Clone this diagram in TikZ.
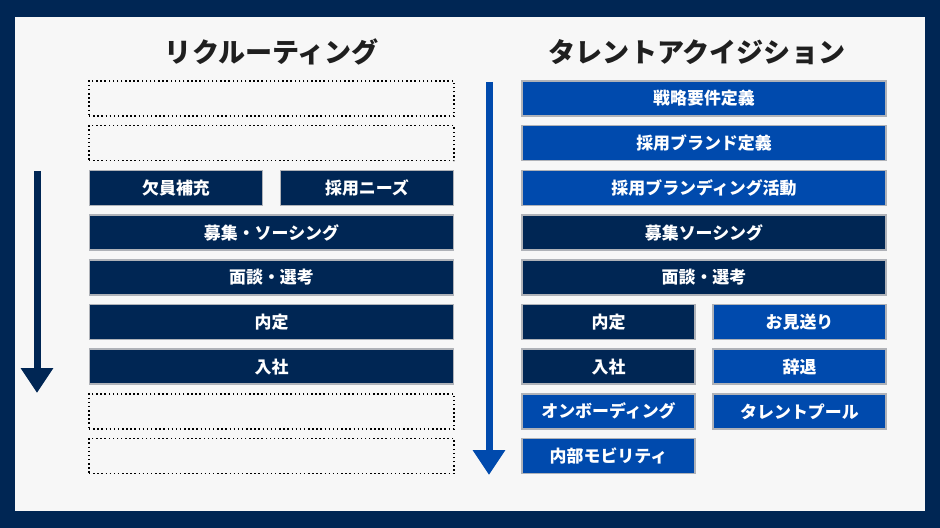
\documentclass[tikz,border=0pt]{standalone}
\usepackage{fontspec}
\setmainfont{Noto Sans CJK JP}
\usetikzlibrary{arrows.meta, positioning}
\definecolor{framenavy}{RGB}{0, 38, 84}
\definecolor{boxnavy}{RGB}{0, 38, 84}
\definecolor{boxblue}{RGB}{0, 74, 173}
\definecolor{paper}{RGB}{247, 247, 247}
\definecolor{edgegray}{RGB}{175, 178, 184}

\begin{document}
\begin{tikzpicture}[x=0.75pt, y=-0.75pt,
  stagebox/.style={draw=edgegray, line width=1.2pt, minimum height=26.25pt, inner sep=0pt, text=white, font=\fontsize{12.7}{14}\selectfont\bfseries},
  navybox/.style={stagebox, fill=boxnavy},
  bluebox/.style={stagebox, fill=boxblue},
  emptybox/.style={draw=black, dotted, line width=1.1pt, fill=paper, minimum height=26.25pt, minimum width=273.75pt},
  full/.style={minimum width=273pt},
  half/.style={minimum width=130pt},
  title/.style={font=\fontsize{20.3}{23}\selectfont\bfseries, text={black!88}},
  flow/.style={line width=5.25pt, -{Triangle[length=18.75pt, width=23.25pt]}}]

  % Frame and background
  \fill[framenavy] (0,0) rectangle (940,528);
  \fill[paper] (15,17) rectangle (925,511);

  % Titles
  \node[title] (rt) at (272, 52) {リクルーティング};
  \node[title] (tt) at (697, 52) {タレントアクイジション};

  % Recruiting column
  \node[emptybox] (r1) at (271.5, 98.5) {};
  \node[emptybox] (r2) at (271.5, 143.2) {};
  \node[navybox, half] (r3a) at (176, 187.9) {欠員補充};
  \node[navybox, half] (r3b) at (367, 187.9) {採用ニーズ};
  \node[navybox, full] (r4) at (271.5, 232.6) {募集・ソーシング};
  \node[navybox, full] (r5) at (271.5, 277.3) {面談・選考};
  \node[navybox, full] (r6) at (271.5, 322) {内定};
  \node[navybox, full] (r7) at (271.5, 366.7) {入社};
  \node[emptybox] (r8) at (271.5, 411.4) {};
  \node[emptybox] (r9) at (271.5, 456.1) {};

  % Talent acquisition column
  \node[bluebox, full] (t1) at (704, 98.5) {戦略要件定義};
  \node[bluebox, full] (t2) at (704, 143.2) {採用ブランド定義};
  \node[bluebox, full] (t3) at (704, 187.9) {採用ブランディング活動};
  \node[navybox, full] (t4) at (704, 232.6) {募集ソーシング};
  \node[navybox, full] (t5) at (704, 277.3) {面談・選考};
  \node[navybox, half] (t6a) at (608.5, 322) {内定};
  \node[bluebox, half] (t6b) at (799.5, 322) {お見送り};
  \node[navybox, half] (t7a) at (608.5, 366.7) {入社};
  \node[bluebox, half] (t7b) at (799.5, 366.7) {辞退};
  \node[bluebox, half] (t8a) at (608.5, 411.4) {オンボーディング};
  \node[bluebox, half] (t8b) at (799.5, 411.4) {タレントプール};
  \node[bluebox, half] (t9) at (608.5, 456.1) {内部モビリティ};

  % Flow arrows
  \coordinate (rs) at (37, 171);
  \coordinate (re) at (37, 393);
  \coordinate (ts) at (489, 82);
  \coordinate (te) at (489, 475);
  \draw[flow, framenavy] (rs) -- (re);
  \draw[flow, boxblue] (ts) -- (te);
\end{tikzpicture}
\end{document}
